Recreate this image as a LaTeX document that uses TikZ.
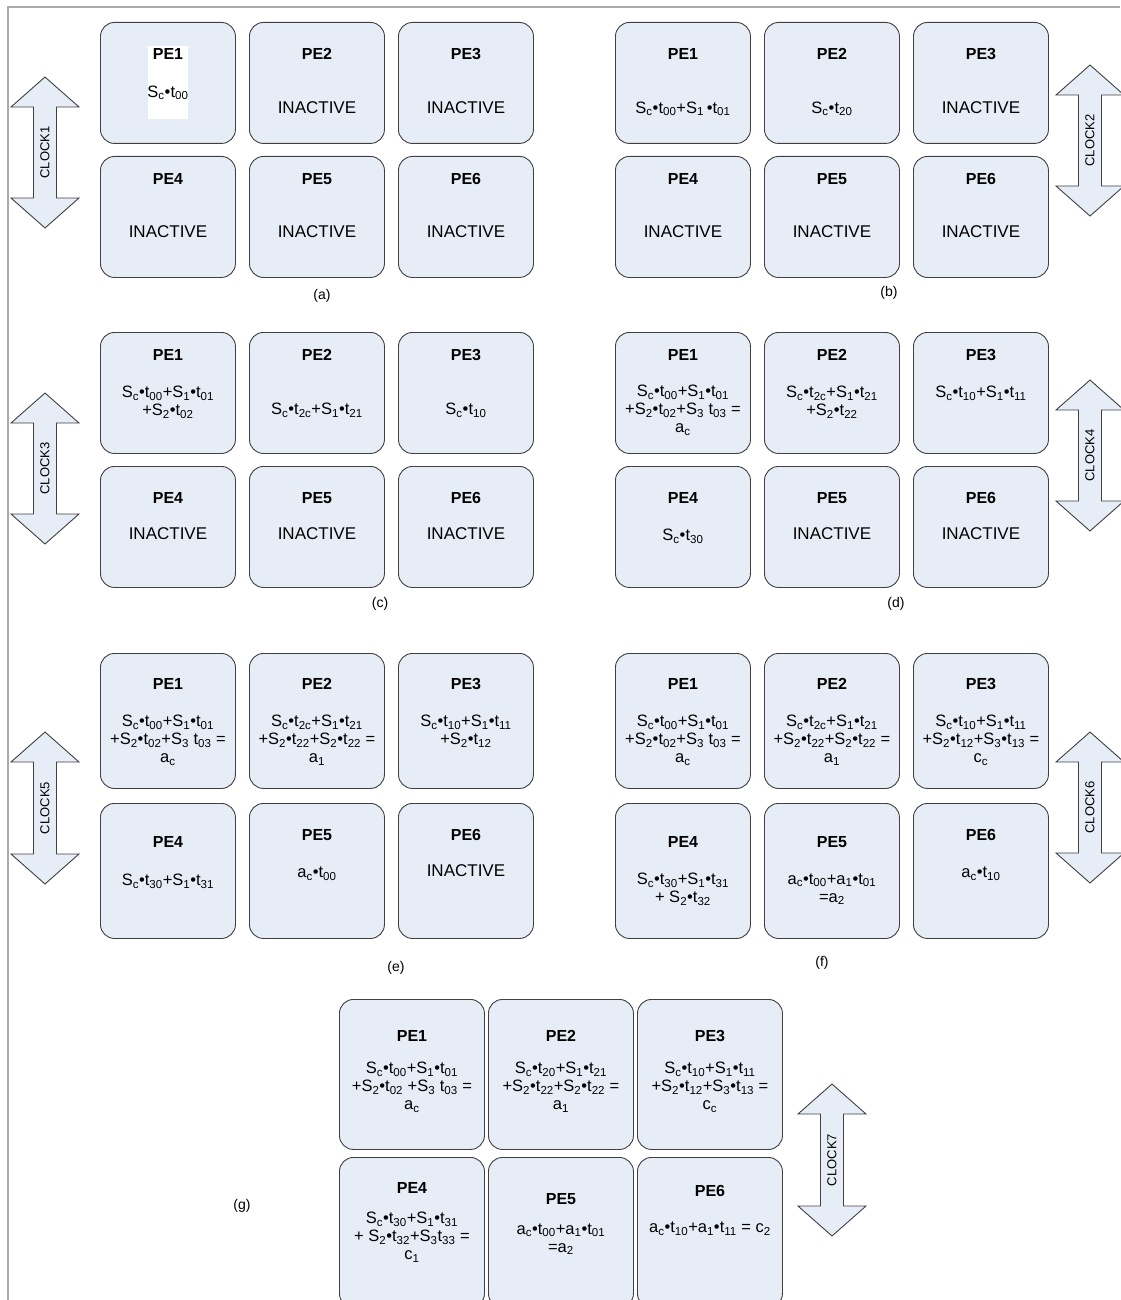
\documentclass[tikz,border=0pt]{standalone}
\usepackage{fontspec}
\setmainfont{Liberation Sans}
\usetikzlibrary{positioning, calc}
\definecolor{peFill}{RGB}{231,237,247}
\definecolor{peDraw}{RGB}{64,64,64}
\definecolor{frameGray}{RGB}{170,170,170}
\newcommand\Sx[1]{S\textsubscript{#1}}
\newcommand\tx[1]{t\textsubscript{#1}}
\newcommand\ax[1]{a\textsubscript{#1}}
\newcommand\cx[1]{c\textsubscript{#1}}

\begin{document}
\begin{tikzpicture}[
  x=1pt, y=-1pt,
  pe/.style={
    rectangle, rounded corners=14pt, draw=peDraw, line width=0.9pt,
    fill=peFill, minimum width=135pt, minimum height=121pt,
    inner sep=0pt, anchor=north west
  },
  pename/.style={font=\fontsize{16}{18}\selectfont\bfseries, inner sep=0pt},
  petext/.style={font=\fontsize{16.5}{18}\selectfont, align=center, inner sep=0pt},
  idle/.style={font=\fontsize{17}{19}\selectfont, inner sep=0pt},
  clk/.style={draw=peDraw, fill=peFill, line width=0.9pt},
  clklbl/.style={font=\fontsize{13}{15}\selectfont, rotate=90, inner sep=0pt},
  panel/.style={font=\fontsize{14}{16}\selectfont, inner sep=0pt}
]
\useasboundingbox (0,0) rectangle (1120,1300);

%% -- frame --------------------------------------------------------------
\draw[frameGray, line width=1.2pt] (8,1300) -- (8,7) -- (1120,7);

%% -- PE boxes -----------------------------------------------------------
\foreach \p/\ox/\oy in {a/100/22, b/615/22, c/100/332, d/615/332}
  \foreach \i/\dx/\dy in {1/0/0, 2/149/0, 3/298/0, 4/0/134, 5/149/134, 6/298/134}
    \node[pe] (\p\i) at (\ox+\dx,\oy+\dy) {};
\foreach \p/\ox/\oy in {e/100/653, f/615/653}
  \foreach \i/\dx/\dy in {1/0/0, 2/149/0, 3/298/0, 4/0/150, 5/149/150, 6/298/150}
    \node[pe, minimum height=135pt] (\p\i) at (\ox+\dx,\oy+\dy) {};
\foreach \i/\dx/\dy in {1/0/0, 2/149/0, 3/298/0, 4/0/158, 5/149/158, 6/298/158}
  \node[pe, minimum width=145pt, minimum height=150pt] (g\i) at (339+\dx,999+\dy) {};

%% -- clock arrows -------------------------------------------------------
\foreach \n/\mx/\ty/\by in {1/45/77/228, 2/1090/65/216, 3/45/393/544,
                            4/1090/380/531, 5/45/732/884, 6/1090/732/883,
                            7/832/1084/1236}{
  \draw[clk] (\mx,\ty) -- (\mx+34,\ty+30) -- (\mx+11.5,\ty+30) -- (\mx+11.5,\by-30)
    -- (\mx+34,\by-30) -- (\mx,\by) -- (\mx-34,\by-30) -- (\mx-11.5,\by-30)
    -- (\mx-11.5,\ty+30) -- (\mx-34,\ty+30) -- cycle;
  \node[clklbl] (clk\n) at (\mx,{(\ty+\by)/2}) {CLOCK\n};
}

%% -- (a) ----------------------------------------------------------------
\node[fill=white, minimum width=40pt, minimum height=73pt, inner sep=0pt] (patch) at (a1.center) {};
\foreach \i in {1,2,3} \node[pename] at ([yshift=-32pt]a\i.north) {PE\i};
\foreach \i in {4,5,6} \node[pename] at ([yshift=-23pt]a\i.north) {PE\i};
\node[petext] at ([yshift=-71pt]a1.north) {\Sx{c}•\tx{00}};
\foreach \i in {2,3} \node[idle] at ([yshift=-86pt]a\i.north) {INACTIVE};
\foreach \i in {4,5,6} \node[idle] at ([yshift=-76pt]a\i.north) {INACTIVE};
\node[panel] (capa) at (322,296) {(a)};

%% -- (b) ----------------------------------------------------------------
\foreach \i in {1,2,3} \node[pename] at ([yshift=-32pt]b\i.north) {PE\i};
\foreach \i in {4,5,6} \node[pename] at ([yshift=-23pt]b\i.north) {PE\i};
\node[petext] at ([yshift=-87pt]b1.north) {\Sx{c}•\tx{00}+\Sx{1}\,•\tx{01}};
\node[petext] at ([yshift=-87pt]b2.north) {\Sx{c}•\tx{20}};
\node[idle] at ([yshift=-86pt]b3.north) {INACTIVE};
\foreach \i in {4,5,6} \node[idle] at ([yshift=-76pt]b\i.north) {INACTIVE};
\node[panel] (capb) at (889,293) {(b)};

%% -- (c) ----------------------------------------------------------------
\foreach \i in {1,2,3} \node[pename] at ([yshift=-23pt]c\i.north) {PE\i};
\foreach \i in {4,5,6} \node[pename] at ([yshift=-32pt]c\i.north) {PE\i};
\node[petext] at ([yshift=-70pt]c1.north) {\Sx{c}•\tx{00}+\Sx{1}•\tx{01}\\+\Sx{2}•\tx{02}};
\node[petext] at ([yshift=-78pt]c2.north) {\Sx{c}•\tx{2c}+\Sx{1}•\tx{21}};
\node[petext] at ([yshift=-78pt]c3.north) {\Sx{c}•\tx{10}};
\foreach \i in {4,5,6} \node[idle] at ([yshift=-68pt]c\i.north) {INACTIVE};
\node[panel] (capc) at (380,604) {(c)};

%% -- (d) ----------------------------------------------------------------
\foreach \i in {1,2,3} \node[pename] at ([yshift=-23pt]d\i.north) {PE\i};
\foreach \i in {4,5,6} \node[pename] at ([yshift=-32pt]d\i.north) {PE\i};
\node[petext] at ([yshift=-78pt]d1.north) {\Sx{c}•\tx{00}+\Sx{1}•\tx{01}\\+\Sx{2}•\tx{02}+\Sx{3} \tx{03} =\\\ax{c}};
\node[petext] at ([yshift=-70pt]d2.north) {\Sx{c}•\tx{2c}+\Sx{1}•\tx{21}\\+\Sx{2}•\tx{22}};
\node[petext] at ([yshift=-61pt]d3.north) {\Sx{c}•\tx{10}+\Sx{1}•\tx{11}};
\node[petext] at ([yshift=-70pt]d4.north) {\Sx{c}•\tx{30}};
\foreach \i in {5,6} \node[idle] at ([yshift=-68pt]d\i.north) {INACTIVE};
\node[panel] (capd) at (896,604) {(d)};

%% -- (e) ----------------------------------------------------------------
\foreach \i in {1,2,3} \node[pename] at ([yshift=-31pt]e\i.north) {PE\i};
\node[pename] at ([yshift=-39pt]e4.north) {PE4};
\foreach \i in {5,6} \node[pename] at ([yshift=-32pt]e\i.north) {PE\i};
\node[petext] at ([yshift=-87pt]e1.north) {\Sx{c}•\tx{00}+\Sx{1}•\tx{01}\\+\Sx{2}•\tx{02}+\Sx{3} \tx{03} =\\\ax{c}};
\node[petext] at ([yshift=-87pt]e2.north) {\Sx{c}•\tx{2c}+\Sx{1}•\tx{21}\\+\Sx{2}•\tx{22}+\Sx{2}•\tx{22} =\\\ax{1}};
\node[petext] at ([yshift=-78pt]e3.north) {\Sx{c}•\tx{10}+\Sx{1}•\tx{11}\\+\Sx{2}•\tx{12}};
\node[petext] at ([yshift=-78pt]e4.north) {\Sx{c}•\tx{30}+\Sx{1}•\tx{31}};
\node[petext] at ([yshift=-71pt]e5.north) {\ax{c}•\tx{00}};
\node[idle] at ([yshift=-68pt]e6.north) {INACTIVE};
\node[panel] (cape) at (396,968) {(e)};

%% -- (f) ----------------------------------------------------------------
\foreach \i in {1,2,3} \node[pename] at ([yshift=-31pt]f\i.north) {PE\i};
\foreach \i in {4,5} \node[pename] at ([yshift=-39pt]f\i.north) {PE\i};
\node[pename] at ([yshift=-32pt]f6.north) {PE6};
\node[petext] at ([yshift=-87pt]f1.north) {\Sx{c}•\tx{00}+\Sx{1}•\tx{01}\\+\Sx{2}•\tx{02}+\Sx{3} \tx{03} =\\\ax{c}};
\node[petext] at ([yshift=-87pt]f2.north) {\Sx{c}•\tx{2c}+\Sx{1}•\tx{21}\\+\Sx{2}•\tx{22}+\Sx{2}•\tx{22} =\\\ax{1}};
\node[petext] at ([yshift=-87pt]f3.north) {\Sx{c}•\tx{10}+\Sx{1}•\tx{11}\\+\Sx{2}•\tx{12}+\Sx{3}•\tx{13} =\\\cx{c}};
\node[petext] at ([yshift=-86pt]f4.north) {\Sx{c}•\tx{30}+\Sx{1}•\tx{31}\\+ \Sx{2}•\tx{32}};
\node[petext] at ([yshift=-86pt]f5.north) {\ax{c}•\tx{00}+\ax{1}•\tx{01}\\=\ax{2}};
\node[petext] at ([yshift=-71pt]f6.north) {\ax{c}•\tx{10}};
\node[panel] (capf) at (822,963) {(f)};

%% -- (g) ----------------------------------------------------------------
\foreach \i in {1,2,3} \node[pename] at ([yshift=-37pt]g\i.north) {PE\i};
\node[pename] at ([yshift=-31pt]g4.north) {PE4};
\node[pename] at ([yshift=-42pt]g5.north) {PE5};
\node[pename] at ([yshift=-34pt]g6.north) {PE6};
\node[petext] at ([yshift=-88pt]g1.north) {\Sx{c}•\tx{00}+\Sx{1}•\tx{01}\\+\Sx{2}•\tx{02} +\Sx{3} \tx{03} =\\\ax{c}};
\node[petext] at ([yshift=-88pt]g2.north) {\Sx{c}•\tx{20}+\Sx{1}•\tx{21}\\+\Sx{2}•\tx{22}+\Sx{2}•\tx{22} =\\\ax{1}};
\node[petext] at ([yshift=-88pt]g3.north) {\Sx{c}•\tx{10}+\Sx{1}•\tx{11}\\+\Sx{2}•\tx{12}+\Sx{3}•\tx{13} =\\\cx{c}};
\node[petext] at ([yshift=-80pt]g4.north) {\Sx{c}•\tx{30}+\Sx{1}•\tx{31}\\+ \Sx{2}•\tx{32}+\Sx{3}\tx{33} =\\\cx{1}};
\node[petext] at ([yshift=-82pt]g5.north) {\ax{c}•\tx{00}+\ax{1}•\tx{01}\\=\ax{2}};
\node[petext] at ([yshift=-72pt]g6.north) {\ax{c}•\tx{10}+\ax{1}•\tx{11} = \cx{2}};
\node[panel] (capg) at (242,1206) {(g)};

\end{tikzpicture}
\end{document}
